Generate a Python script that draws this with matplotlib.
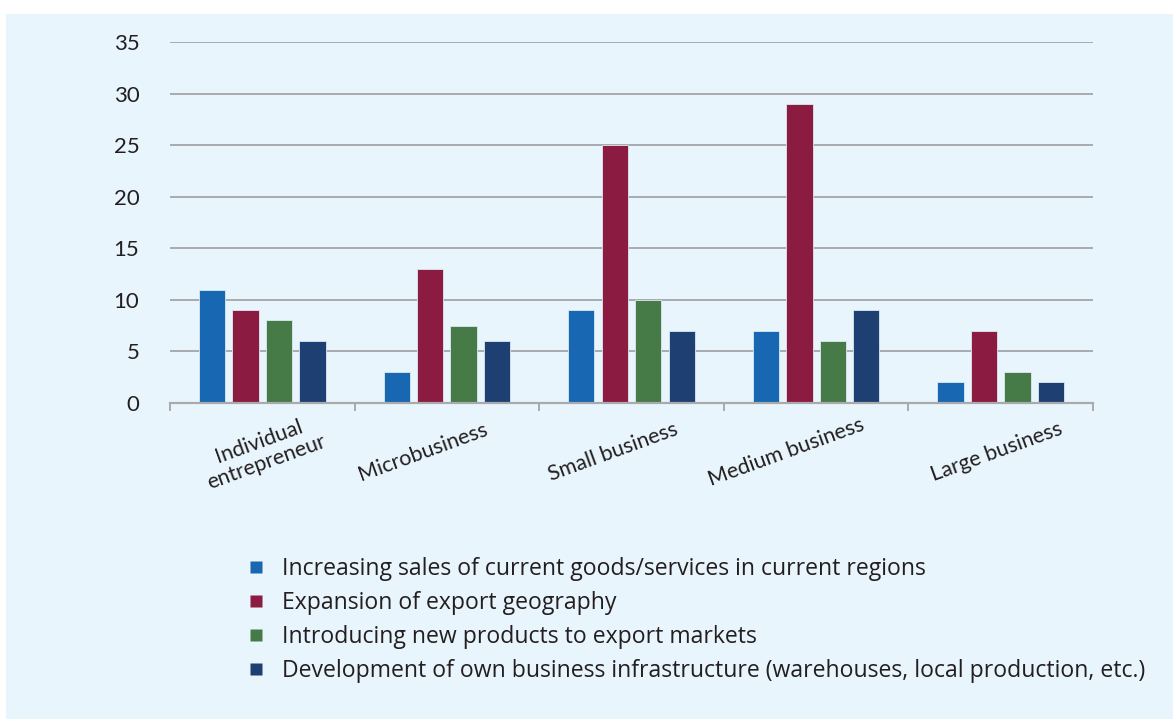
import matplotlib.pyplot as plt
import numpy as np
from matplotlib.lines import Line2D
from matplotlib.patches import Rectangle

categories = ["Individual\nentrepreneur", "Microbusiness", "Small business",
              "Medium business", "Large business"]
series_names = [
    "Increasing sales of current goods/services in current regions",
    "Expansion of export geography",
    "Introducing new products to export markets",
    "Development of own business infrastructure (warehouses, local production, etc.)",
]
sales_current = [11, 3, 9, 7, 2]
export_geo = [9, 13, 25, 29, 7]
new_products = [8, 7.5, 10, 6, 3]
infrastructure = [6, 6, 7, 9, 2]

colors = ["#1767B2", "#8B1B40", "#467B47", "#1E3F72"]
bg = "#E9F5FC"

fig = plt.figure(figsize=(11.73, 7.19), dpi=100, facecolor="white")
fig.patches.append(Rectangle((6 / 1173, 0), 1, 1 - 14 / 719, transform=fig.transFigure,
                             facecolor=bg, edgecolor="none", zorder=-10))

ax = fig.add_axes([170 / 1173, 1 - 403 / 719, 923 / 1173, 361 / 719])
ax.set_facecolor("none")

x = np.arange(len(categories))
step = 0.181
width = 0.142
all_series = [sales_current, export_geo, new_products, infrastructure]
for i, vals in enumerate(all_series):
    ax.bar(x + (i - 1.5) * step, vals, width, color=colors[i],
           edgecolor="#dce9f2", linewidth=0.6, zorder=3, label=series_names[i])

ax.set_xlim(-0.5, len(categories) - 0.5)
ax.set_ylim(0, 35)
ax.set_yticks(range(0, 36, 5))
ax.yaxis.grid(True, color="#A9AAAD", linewidth=1.4, zorder=0)
for s in ["top", "right", "left"]:
    ax.spines[s].set_visible(False)
ax.spines["bottom"].set_color("#A9AAAD")
ax.spines["bottom"].set_linewidth(1.6)
ax.spines["bottom"].set_zorder(4)
ax.tick_params(axis="y", length=0, pad=22, labelsize=16, labelcolor="#231F20")
ax.set_xticks(np.arange(len(categories) + 1) - 0.5)
ax.set_xticklabels([])
ax.tick_params(axis="x", length=6, width=1.4, color="#A9AAAD", direction="out")
for lab in ax.get_yticklabels():
    lab.set_fontfamily("Lato")

# horizontal nudges of the rotated category labels (in group widths)
label_shift = [0.0, -0.13, -0.10, -0.16, -0.02]
for i, cat in enumerate(categories):
    ax.text(i + label_shift[i], -4.75, cat, rotation=20, ha="center", va="center",
            multialignment="center", fontsize=15.5, family="Lato", color="#231F20",
            linespacing=1.1)

handles = [Line2D([], [], marker="s", linestyle="none", markersize=9,
                  markerfacecolor=c, markeredgecolor="none") for c in colors]
fig.legend(handles, series_names, loc="upper left", bbox_to_anchor=(224 / 1173, 1 - 536 / 719),
           frameon=False, prop={"family": "Open Sans", "size": 16.6},
           handletextpad=0.6, labelspacing=0.44, handlelength=1.0, labelcolor="#231F20")

fig.savefig("out.png", dpi=100, facecolor="white")
